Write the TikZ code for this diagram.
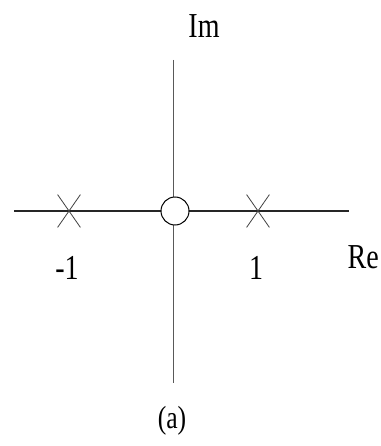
\documentclass[tikz,border=0pt]{standalone}
\usepackage{fontspec}
\setmainfont[FakeStretch=0.8]{Liberation Serif}
\usetikzlibrary{shapes.misc}

\begin{document}
\begin{tikzpicture}[x=1pt,y=-1pt,font=\fontsize{35}{40}\selectfont,
  pole/.style={cross out,draw=black!75,line width=.8pt,inner sep=0pt,minimum width=22pt,minimum height=32pt},
  zero/.style={circle,draw=black,line width=1pt,fill=white,inner sep=0pt,minimum size=28pt},
  lbl/.style={inner sep=0pt,text=black}]
\useasboundingbox (0,0) rectangle (380,446);
% axes
\coordinate (reL) at (14,211);
\coordinate (reR) at (349,211);
\coordinate (imT) at (173,60);
\coordinate (imB) at (173,383);
\draw[black!85,line width=1.2pt] (reL) -- (reR);
\draw[black!65,line width=.9pt] (imT) -- (imB);
% poles and zero
\node[pole] (pm) at (69,211) {};
\node[pole] (pp) at (258,211) {};
\node[zero] (z) at (175,211) {};
% labels
\node[lbl] (im) at (204,26) {Im};
\node[lbl,anchor=east] (re) at (379,257) {Re};
\node[lbl] (lm) at (67,268) {-1};
\node[lbl] (lp) at (256,268) {1};
\node[lbl,font=\fontsize{32}{38}\selectfont] (cap) at (172,421) {(a)};
\end{tikzpicture}
\end{document}
